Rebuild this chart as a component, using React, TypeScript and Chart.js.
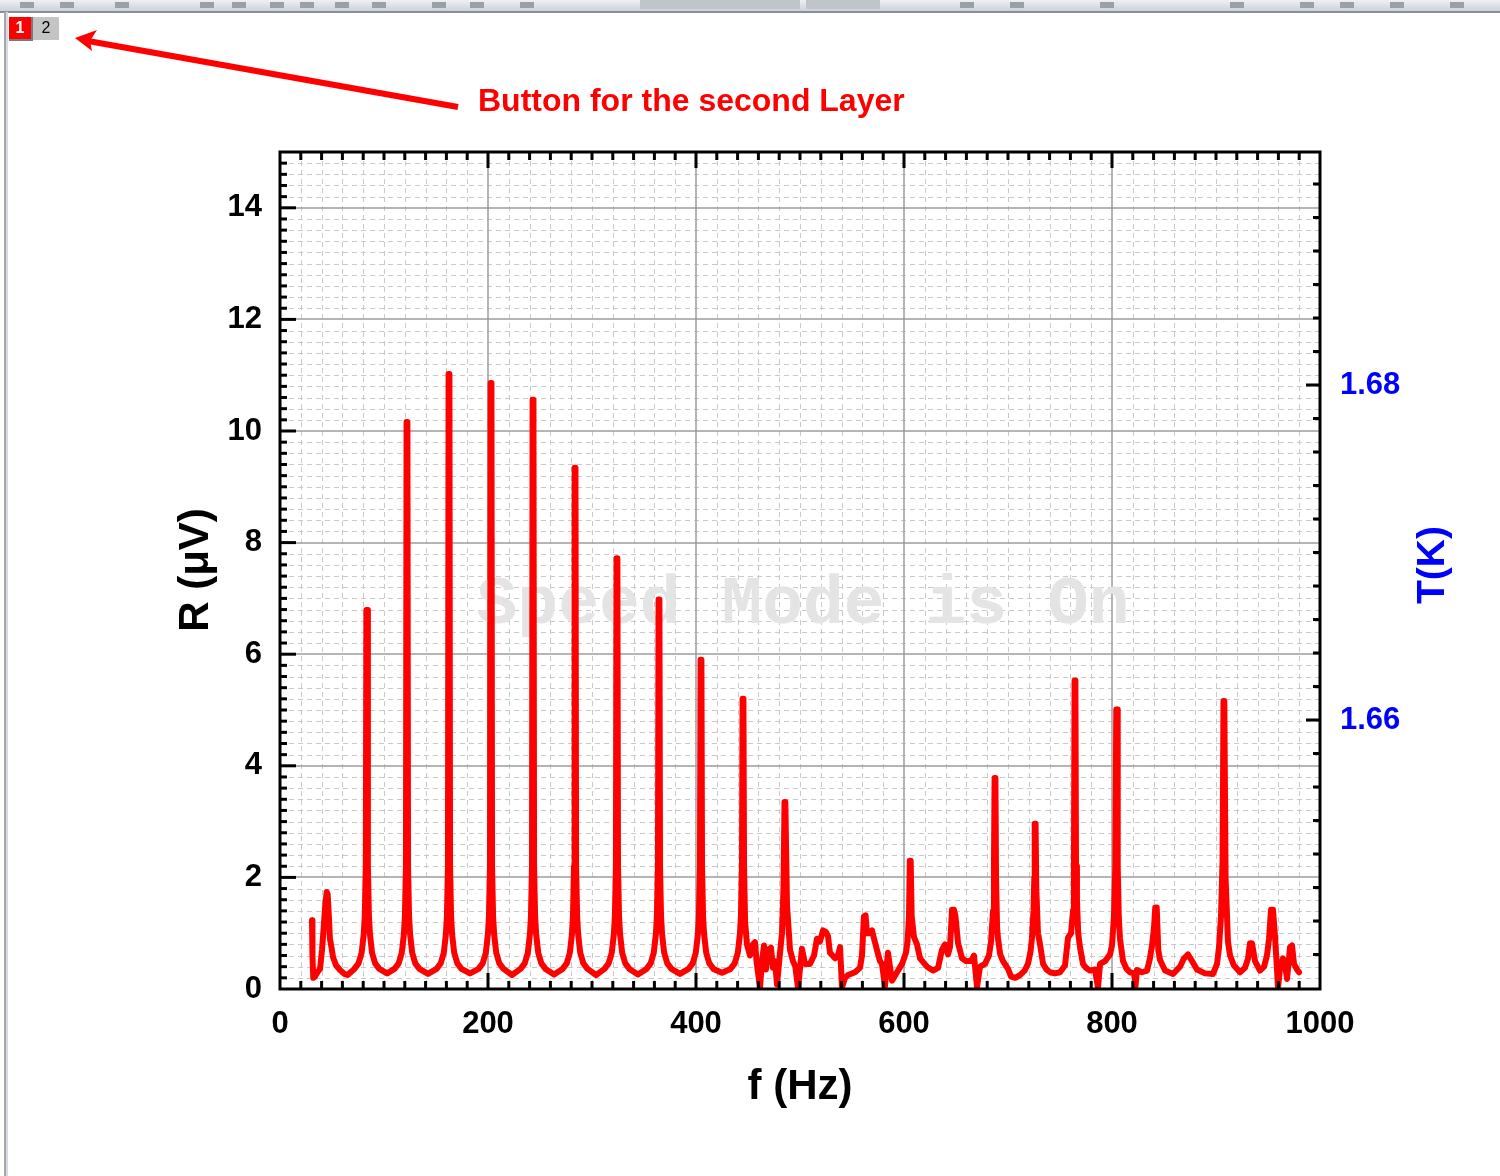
import React, { useEffect, useRef } from 'react';
import { Chart, registerables } from 'chart.js';

Chart.register(...registerables);

// Spectrum R(f)
const freqHz = [
  30.8, 31.2, 32.0, 33.5, 36.0, 38.5, 40.4, 42.0, 43.5, 44.9, 45.8, 47.0, 48.0, 49.5, 51.0, 54.0, 57.7, 62.0, 65.0,
  71.5, 75.5, 78.5, 80.5, 81.5, 82.5, 83.1, 83.9, 84.5, 85.5, 86.5, 88.5, 91.5, 95.5, 103.0,
  110.1, 114.1, 117.1, 119.1, 120.1, 121.1, 121.7, 122.5, 123.1, 124.1, 125.1, 127.1, 130.1, 134.1, 142.3,
  150.5, 154.5, 157.5, 159.5, 160.5, 161.5, 162.1, 162.9, 163.5, 164.5, 165.5, 167.5, 170.5, 174.5, 182.7,
  190.9, 194.9, 197.9, 199.9, 200.9, 201.9, 202.5, 203.3, 203.9, 204.9, 205.9, 207.9, 210.9, 214.9, 223.1,
  231.3, 235.3, 238.3, 240.3, 241.3, 242.3, 242.9, 243.7, 244.3, 245.3, 246.3, 248.3, 251.3, 255.3, 263.5,
  271.7, 275.7, 278.7, 280.7, 281.7, 282.7, 283.3, 284.1, 284.7, 285.7, 286.7, 288.7, 291.7, 295.7, 303.9,
  312.0, 316.0, 319.0, 321.0, 322.0, 323.0, 323.6, 324.4, 325.0, 326.0, 327.0, 329.0, 332.0, 336.0, 344.2,
  352.4, 356.4, 359.4, 361.4, 362.4, 363.4, 364.0, 364.8, 365.4, 366.4, 367.4, 369.4, 372.4, 376.4, 384.6,
  392.8, 396.8, 399.8, 401.8, 402.8, 403.8, 404.4, 405.2, 405.8, 406.8, 407.8, 409.8, 412.8, 416.8, 425.0,
  433.2, 437.2, 440.2, 442.2, 443.2, 444.2, 444.8, 445.6, 446.2, 447.2, 449.0, 451.9,
  454.8, 456.7, 458.2, 459.6, 461.5, 463.5, 465.4, 467.3, 469.2, 472.1, 474.0, 475.9, 477.9, 480.8, 482.7, 484.1,
  485.1, 485.9, 487.5, 490.4, 493.3, 495.5, 498.1, 501.9, 504.8, 509.6, 513.5, 516.3, 519.2, 522.1, 525.0, 526.9,
  528.8, 533.7, 536.5, 538.5, 540.4, 543.3, 546.2, 552.9, 557.7, 559.6, 561.5, 563.0, 564.4, 566.3, 569.2, 571.2,
  574.0, 576.9, 578.8, 581.7, 584.6, 586.5, 588.5, 593.3, 598.1, 601.9, 603.4, 604.8, 605.6, 606.4, 607.4, 609.6,
  612.5, 615.4, 622.1, 627.9, 632.7, 636.5, 639.4, 642.3, 644.2, 646.2, 648.1, 649.5, 652.0, 655.8, 659.6, 664.4,
  667.3, 670.2, 673.1, 677.9, 681.7, 683.7, 685.6, 686.5, 687.1, 687.9, 688.5, 689.5, 690.4, 692.5, 695.2, 700.0,
  703.0, 707.0, 711.5, 716.0, 719.2, 721.5, 723.0, 724.5, 725.3, 725.7, 726.5, 727.2, 728.8, 730.8, 733.7, 737.0,
  740.4, 745.0, 750.0, 754.8, 757.7, 760.6, 762.5, 763.4, 764.0, 764.8, 765.4, 766.3, 767.5, 769.2, 772.1, 775.0,
  778.8, 783.7, 786.5, 788.5, 793.3, 798.1, 800.0, 801.9, 803.2, 804.1, 804.9, 805.5, 806.5, 807.7, 810.6, 814.0,
  817.3, 821.2, 822.6, 824.0, 828.8, 833.7, 836.5, 838.5, 840.4, 841.6, 843.0, 844.5, 846.2, 851.0, 858.7, 865.4,
  869.2, 873.1, 876.9, 881.7, 889.4, 897.1, 901.0, 902.9, 904.8, 906.3, 907.2, 908.0, 909.2, 911.5, 913.5, 917.3,
  923.1, 927.9, 930.8, 932.7, 934.6, 937.5, 942.3, 946.2, 949.0, 951.0, 952.9, 954.8, 956.7, 958.2, 959.6, 961.5,
  964.4, 966.3, 968.3, 971.2, 973.1, 975.0, 977.9, 979.8,
];

const rMicroV = [
  1.23, 0.6, 0.2, 0.22, 0.3, 0.36, 0.7, 1.1, 1.5, 1.74, 1.7, 1.3, 0.9, 0.75, 0.57, 0.42, 0.34, 0.27, 0.25,
  0.36, 0.46, 0.65, 0.98, 1.3, 2.2, 6.79, 6.79, 2.2, 1.3, 0.98, 0.65, 0.46, 0.36, 0.28,
  0.36, 0.46, 0.65, 0.98, 1.3, 2.2, 10.16, 10.16, 2.2, 1.3, 0.98, 0.65, 0.46, 0.36, 0.27,
  0.36, 0.46, 0.65, 0.98, 1.3, 2.2, 11.02, 11.02, 2.2, 1.3, 0.98, 0.65, 0.46, 0.36, 0.28,
  0.36, 0.46, 0.65, 0.98, 1.3, 2.2, 10.86, 10.86, 2.2, 1.3, 0.98, 0.65, 0.46, 0.36, 0.25,
  0.36, 0.46, 0.65, 0.98, 1.3, 2.2, 10.56, 10.56, 2.2, 1.3, 0.98, 0.65, 0.46, 0.36, 0.26,
  0.36, 0.46, 0.65, 0.98, 1.3, 2.2, 9.34, 9.34, 2.2, 1.3, 0.98, 0.65, 0.46, 0.36, 0.25,
  0.36, 0.46, 0.65, 0.98, 1.3, 2.2, 7.72, 7.72, 2.2, 1.3, 0.98, 0.65, 0.46, 0.36, 0.26,
  0.36, 0.46, 0.65, 0.98, 1.3, 2.2, 6.98, 6.98, 2.2, 1.3, 0.98, 0.65, 0.46, 0.36, 0.27,
  0.36, 0.46, 0.65, 0.98, 1.3, 2.2, 5.9, 5.9, 2.2, 1.3, 0.98, 0.65, 0.46, 0.36, 0.29,
  0.36, 0.46, 0.65, 0.98, 1.3, 2.2, 5.2, 5.2, 2.2, 1.2, 0.8, 0.6,
  0.8, 0.84, 0.5, 0.3, 0.02, 0.5, 0.78, 0.35, 0.7, 0.74, 0.38, 0.5, 0.08, 0.65, 1.0, 1.8,
  3.35, 3.35, 1.5, 0.7, 0.5, 0.4, 0.02, 0.72, 0.45, 0.45, 0.6, 0.9, 0.85, 1.05, 1.02, 0.95,
  0.65, 0.55, 0.6, 0.75, 0.03, 0.2, 0.25, 0.3, 0.38, 0.6, 1.3, 1.32, 1.0, 1.0, 1.05, 0.9,
  0.7, 0.5, 0.45, 0.05, 0.65, 0.4, 0.15, 0.3, 0.45, 0.65, 0.85, 1.3, 2.3, 2.3, 1.3, 0.93,
  0.8, 0.55, 0.4, 0.33, 0.38, 0.7, 0.8, 0.62, 0.75, 1.42, 1.42, 1.3, 0.82, 0.55, 0.5, 0.5,
  0.6, 0.03, 0.4, 0.45, 0.6, 0.85, 1.4, 2.2, 3.78, 3.78, 2.0, 1.1, 0.9, 0.62, 0.5, 0.36,
  0.22, 0.2, 0.25, 0.33, 0.45, 0.65, 0.9, 1.4, 2.0, 2.96, 2.96, 1.8, 1.0, 0.8, 0.45, 0.35,
  0.3, 0.28, 0.3, 0.42, 0.92, 1.0, 1.4, 2.2, 5.53, 5.53, 2.2, 1.6, 1.0, 0.75, 0.45, 0.38,
  0.33, 0.35, 0.02, 0.45, 0.5, 0.62, 0.78, 1.3, 2.2, 5.01, 5.01, 2.2, 1.3, 0.9, 0.5, 0.36,
  0.3, 0.28, 0.05, 0.34, 0.3, 0.33, 0.55, 0.78, 1.1, 1.46, 1.46, 0.7, 0.52, 0.33, 0.27, 0.4,
  0.55, 0.62, 0.5, 0.35, 0.28, 0.27, 0.45, 0.75, 1.3, 2.3, 5.16, 5.16, 2.0, 0.85, 0.6, 0.42,
  0.3, 0.38, 0.55, 0.82, 0.82, 0.5, 0.33, 0.4, 0.6, 0.9, 1.42, 1.42, 0.95, 0.5, 0.02, 0.35,
  0.55, 0.45, 0.18, 0.75, 0.78, 0.45, 0.35, 0.3,
];

const xTickValues = [0, 200, 400, 600, 800, 1000];
const yTickValues = [0, 2, 4, 6, 8, 10, 12, 14];
const tTickValues = [1.66, 1.68];

const X_MIN = 0, X_MAX = 1000, X_MINOR = 20;
const Y_MIN = 0, Y_MAX = 15, Y_MINOR = 0.2;
const T_MIN = 1.64394, T_MAX = 1.69391, T_MINOR = 0.002;

const xTitle = 'f (Hz)';
const yTitle = 'R (\u03BCV)';
const tTitle = 'T(K)';
const watermark = 'Speed Mode is On';
const note = 'Button for the second Layer';

const SANS = '"Liberation Sans", Arial, sans-serif';
const tickFont = { family: SANS, size: 31, weight: 'bold' as const };

const decor = {
  id: 'decor',
  beforeDraw(chart: any) {
    const ctx = chart.ctx as CanvasRenderingContext2D;
    ctx.save();
    ctx.fillStyle = '#ffffff';
    ctx.fillRect(0, 0, chart.width, chart.height);
    // toolbar strip
    const g = ctx.createLinearGradient(0, 0, 0, 12);
    g.addColorStop(0, '#eef0f4');
    g.addColorStop(1, '#c9ced8');
    ctx.fillStyle = g;
    ctx.fillRect(0, 0, chart.width, 12);
    ctx.fillStyle = '#8a909b';
    ctx.fillRect(0, 11, chart.width, 2);
    ctx.fillStyle = '#9aa0a8';
    const icons = [20, 60, 115, 200, 232, 270, 300, 335, 372, 432, 470, 520, 650, 700, 760, 850, 960, 1010, 1100, 1230, 1300, 1340, 1390, 1450];
    icons.forEach((x) => ctx.fillRect(x, 2, 14, 6));
    ctx.fillStyle = '#c0c5cc';
    ctx.fillRect(640, 0, 160, 9);
    ctx.fillRect(806, 0, 74, 9);
    // left border
    ctx.fillStyle = '#a4a8ae';
    ctx.fillRect(4, 12, 2, chart.height - 12);
    ctx.fillStyle = '#d6d9de';
    ctx.fillRect(6, 12, 2, chart.height - 12);
    ctx.restore();
  },
  beforeDatasetsDraw(chart: any) {
    const ctx = chart.ctx as CanvasRenderingContext2D;
    const { left, right, top, bottom } = chart.chartArea;
    const xs = chart.scales.x, ys = chart.scales.y;
    ctx.save();
    // minor dashed grid
    ctx.strokeStyle = '#c9c9c9';
    ctx.lineWidth = 1;
    ctx.setLineDash([5, 4]);
    for (let v = X_MIN + X_MINOR; v < X_MAX - 1e-6; v += X_MINOR) {
      if (Math.abs(v % 200) < 1e-6) continue;
      const p = Math.round(xs.getPixelForValue(v)) + 0.5;
      ctx.beginPath(); ctx.moveTo(p, top); ctx.lineTo(p, bottom); ctx.stroke();
    }
    for (let i = 1; i * Y_MINOR < Y_MAX - 1e-6; i++) {
      if (i % 10 === 0) continue;
      const p = Math.round(ys.getPixelForValue(i * Y_MINOR)) + 0.5;
      ctx.beginPath(); ctx.moveTo(left, p); ctx.lineTo(right, p); ctx.stroke();
    }
    // major solid grid
    ctx.setLineDash([]);
    ctx.strokeStyle = '#9c9c9c';
    ctx.lineWidth = 1.5;
    for (let v = 200; v < X_MAX; v += 200) {
      const p = Math.round(xs.getPixelForValue(v));
      ctx.beginPath(); ctx.moveTo(p, top); ctx.lineTo(p, bottom); ctx.stroke();
    }
    for (let v = 2; v < Y_MAX; v += 2) {
      const p = Math.round(ys.getPixelForValue(v));
      ctx.beginPath(); ctx.moveTo(left, p); ctx.lineTo(right, p); ctx.stroke();
    }
    // watermark
    ctx.fillStyle = '#e4e4e4';
    ctx.font = 'bold 68px "Liberation Mono", "DejaVu Sans Mono", monospace';
    ctx.textAlign = 'center';
    ctx.textBaseline = 'alphabetic';
    ctx.fillText(watermark, 803, 623);
    ctx.restore();
  },
  afterDatasetsDraw(chart: any) {
    const ctx = chart.ctx as CanvasRenderingContext2D;
    const { left, right, top, bottom } = chart.chartArea;
    const xs = chart.scales.x, ys = chart.scales.y, ts = chart.scales.y2;
    ctx.save();
    ctx.strokeStyle = '#000';
    ctx.lineWidth = 3;
    ctx.strokeRect(left, top, right - left, bottom - top);
    ctx.lineWidth = 3;
    // x ticks top & bottom, inward
    for (let v = X_MIN + X_MINOR; v < X_MAX - 1e-6; v += X_MINOR) {
      const major = Math.abs(v % 200) < 1e-6;
      const len = major ? 16 : 8;
      const p = xs.getPixelForValue(v);
      ctx.beginPath();
      ctx.moveTo(p, bottom); ctx.lineTo(p, bottom - len);
      ctx.moveTo(p, top); ctx.lineTo(p, top + len);
      ctx.stroke();
    }
    // y ticks left, inward
    for (let i = 1; i * Y_MINOR < Y_MAX - 1e-6; i++) {
      const major = i % 10 === 0;
      const len = major ? 16 : 7;
      const p = ys.getPixelForValue(i * Y_MINOR);
      ctx.beginPath(); ctx.moveTo(left, p); ctx.lineTo(left + len, p); ctx.stroke();
    }
    // T ticks right, inward
    const start = Math.ceil(T_MIN / T_MINOR - 1e-6);
    for (let i = start; i * T_MINOR < T_MAX; i++) {
      const v = i * T_MINOR;
      const major = tTickValues.some((t) => Math.abs(t - v) < 1e-6);
      const len = major ? 14 : 7;
      const p = ts.getPixelForValue(v);
      if (p <= top + 2 || p >= bottom - 2) continue;
      ctx.beginPath(); ctx.moveTo(right, p); ctx.lineTo(right - len, p); ctx.stroke();
    }
    ctx.restore();
  },
  afterDraw(chart: any) {
    const ctx = chart.ctx as CanvasRenderingContext2D;
    ctx.save();
    // axis titles
    ctx.fillStyle = '#000';
    ctx.textAlign = 'center';
    ctx.textBaseline = 'middle';
    ctx.font = `bold 42px ${SANS}`;
    ctx.fillText(xTitle, 800, 1087);
    ctx.save();
    ctx.translate(196, 570);
    ctx.rotate(-Math.PI / 2);
    ctx.font = `bold 42px ${SANS}`;
    ctx.fillText(yTitle, 0, 0);
    ctx.restore();
    ctx.save();
    ctx.translate(1433, 565);
    ctx.rotate(-Math.PI / 2);
    ctx.fillStyle = '#0000ff';
    ctx.font = `bold 39px ${SANS}`;
    ctx.fillText(tTitle, 0, 0);
    ctx.restore();
    // layer buttons
    ctx.fillStyle = '#c4c4c4';
    ctx.fillRect(33, 17, 26, 23);
    ctx.fillStyle = '#7a7a7a';
    ctx.fillRect(9, 17, 24, 24);
    ctx.fillStyle = '#ff0000';
    ctx.fillRect(9, 17, 22, 22);
    ctx.fillStyle = '#ffffff';
    ctx.font = `bold 16px ${SANS}`;
    ctx.fillText('1', 20, 29);
    ctx.fillStyle = '#000';
    ctx.font = `16px ${SANS}`;
    ctx.fillText('2', 46, 29);
    // annotation arrow
    ctx.strokeStyle = '#ff0000';
    ctx.fillStyle = '#ff0000';
    ctx.lineWidth = 6;
    ctx.lineCap = 'butt';
    ctx.beginPath();
    ctx.moveTo(458, 107);
    ctx.lineTo(88, 41);
    ctx.stroke();
    ctx.beginPath();
    ctx.moveTo(75, 38);
    ctx.lineTo(97, 30);
    ctx.lineTo(90, 41);
    ctx.lineTo(92, 51);
    ctx.closePath();
    ctx.fill();
    ctx.textAlign = 'left';
    ctx.textBaseline = 'alphabetic';
    ctx.font = `bold 32px ${SANS}`;
    ctx.fillText(note, 478, 111);
    ctx.restore();
  },
};

export default function App() {
  const ref = useRef<HTMLCanvasElement>(null);
  useEffect(() => {
    if (!ref.current) return;
    const points = freqHz.map((f, i) => ({ x: f, y: rMicroV[i] }));
    const chart = new Chart(ref.current, {
      type: 'scatter',
      data: {
        datasets: [
          {
            data: points,
            showLine: true,
            borderColor: '#ff0000',
            backgroundColor: '#ff0000',
            borderWidth: 6,
            pointRadius: 0,
            borderJoinStyle: 'round',
            borderCapStyle: 'round',
            tension: 0,
          } as any,
        ],
      },
      options: {
        responsive: false,
        animation: false,
        devicePixelRatio: 1,
        events: [],
        layout: { padding: { top: 152, left: 0, right: 0, bottom: 0 } },
        plugins: { legend: { display: false }, tooltip: { enabled: false } },
        scales: {
          x: {
            type: 'linear',
            position: 'bottom',
            min: X_MIN,
            max: X_MAX,
            grid: { display: false, drawTicks: false },
            border: { display: false },
            afterBuildTicks: (s: any) => { s.ticks = xTickValues.map((v) => ({ value: v })); },
            afterFit: (s: any) => { s.height = 187; },
            ticks: { font: tickFont, color: '#000', padding: 17, maxRotation: 0, autoSkip: false, callback: (v: any) => String(v) },
          },
          y: {
            type: 'linear',
            position: 'left',
            min: Y_MIN,
            max: Y_MAX,
            grid: { display: false, drawTicks: false },
            border: { display: false },
            afterBuildTicks: (s: any) => { s.ticks = yTickValues.map((v) => ({ value: v })); },
            afterFit: (s: any) => { s.width = 280; },
            ticks: { font: tickFont, color: '#000', padding: 18, autoSkip: false, callback: (v: any) => String(v) },
          },
          y2: {
            type: 'linear',
            position: 'right',
            min: T_MIN,
            max: T_MAX,
            grid: { display: false, drawTicks: false },
            border: { display: false },
            afterBuildTicks: (s: any) => { s.ticks = tTickValues.map((v) => ({ value: v })); },
            afterFit: (s: any) => { s.width = 180; },
            ticks: { font: tickFont, color: '#0000ff', padding: 20, autoSkip: false, callback: (v: any) => Number(v).toFixed(2) },
          },
        },
      },
      plugins: [decor],
    });
    return () => chart.destroy();
  }, []);
  return (
    <div style={{ position: 'absolute', left: 0, top: 0, width: 1500, height: 1176, background: '#fff' }}>
      <canvas ref={ref} width={1500} height={1176} style={{ display: 'block' }} />
    </div>
  );
}
